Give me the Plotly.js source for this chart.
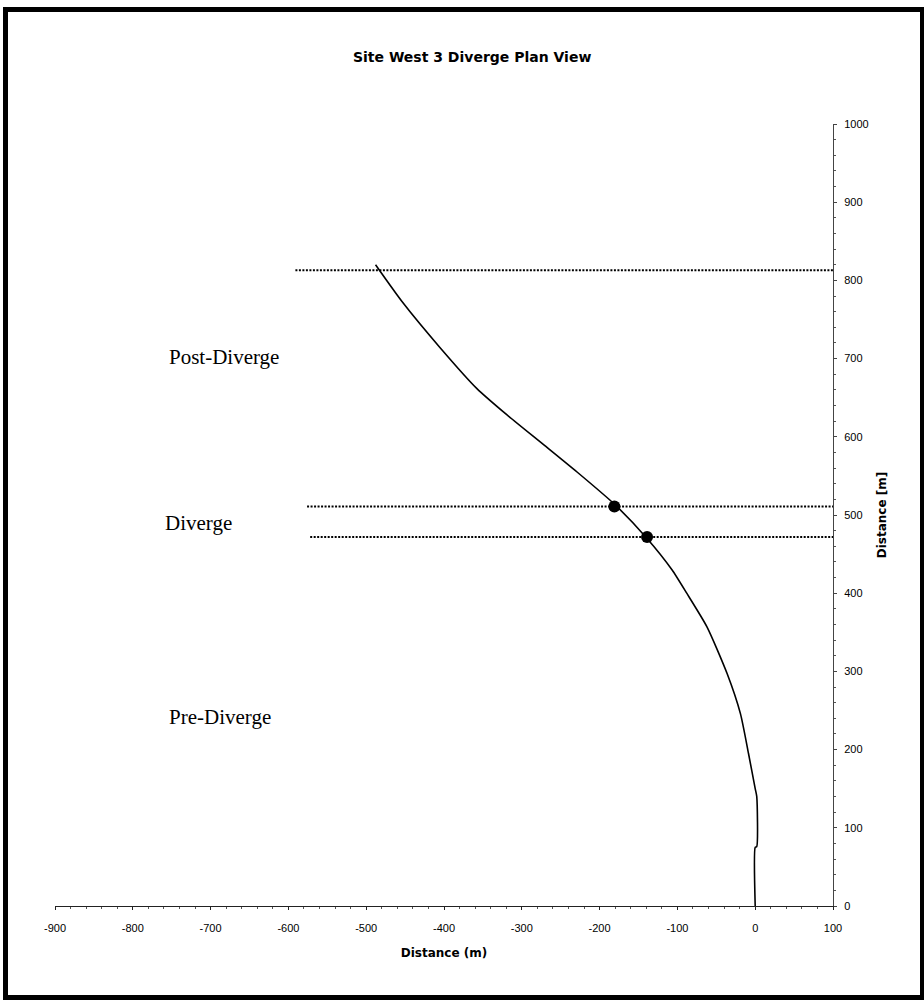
<!DOCTYPE html>
<html>
<head>
<meta charset="utf-8">
<script src="https://cdn.plot.ly/plotly-3.0.1.min.js"></script>
<style>
  html, body { margin: 0; padding: 0; background: #fff; }
  #wrap { position: relative; width: 924px; height: 1001px; }
  #chart { position: absolute; left: 0; top: 0; width: 924px; height: 1001px; }
  #frame { position: absolute; left: 3px; top: 7px; width: 912px; height: 983px;
           border: 5px solid #000; pointer-events: none; }
</style>
</head>
<body>
<div id="wrap">
  <div id="chart"></div>
  <div id="frame"></div>
</div>
<script>
// Road centreline in plan view (metres)
const pathX = [0, 0, 2, 2, 0, -8.6, -19, -36, -62, -88, -107, -139, -180, -229, -272, -319, -358, -405, -454, -488];
const pathY = [0, 75, 76, 140, 150, 195, 246, 297, 357, 400, 430, 470, 513, 555, 590, 628, 662, 714, 773, 820];

// Section boundaries (distance along the y axis) and where each dotted line begins
const boundaryY = [813, 511, 472];
const boundaryStartX = [-591, -576, -572];
const boundaryEndX = 100;

// Diverge start / end points on the centreline
const pointX = [-181, -139];
const pointY = [511, 472];

// Axis ticks (plain hyphen for negatives)
const xTickVals = [-900, -800, -700, -600, -500, -400, -300, -200, -100, 0, 100];
const xTickText = ["-900", "-800", "-700", "-600", "-500", "-400", "-300", "-200", "-100", "0", "100"];

// Section names and where they sit
const sectionNames = ["Post-Diverge", "Diverge", "Pre-Diverge"];
const sectionX = [-756, -761, -756];
const sectionY = [702, 490, 242];

const traces = [];
boundaryY.forEach((y, i) => {
  traces.push({
    x: [boundaryStartX[i], boundaryEndX], y: [y, y],
    mode: 'lines', line: {color: '#000', width: 2, dash: '2px,1.5px'},
    hoverinfo: 'skip', showlegend: false
  });
});
traces.push({
  x: pathX, y: pathY, mode: 'lines',
  line: {color: '#000', width: 1.6, shape: 'spline', smoothing: 0.6}, showlegend: false
});
traces.push({
  x: pointX, y: pointY, mode: 'markers',
  marker: {color: '#000', size: 12}, showlegend: false
});

const layout = {
  width: 924, height: 1001,
  margin: {l: 55, r: 91, t: 124, b: 95},
  paper_bgcolor: '#fff', plot_bgcolor: '#fff',
  showlegend: false,
  title: {
    text: 'Site West 3 Diverge Plan View',
    font: {family: 'DejaVu Sans', size: 14, color: '#000', weight: 'bold'},
    x: 0.511, xanchor: 'center', y: 0.943, yanchor: 'middle'
  },
  xaxis: {
    range: [-900, 100], tickmode: 'array', tickvals: xTickVals, ticktext: xTickText,
    showgrid: false, zeroline: false,
    showline: true, linecolor: '#222', linewidth: 1,
    ticks: 'outside', ticklen: 3, tickcolor: '#222',
    minor: {ticks: 'outside', ticklen: 2, dtick: 20, tickcolor: '#555'},
    ticklabelstandoff: 9,
    tickfont: {family: 'Liberation Sans', size: 11, color: '#000'},
    title: {text: 'Distance (m)', standoff: 15,
            font: {family: 'DejaVu Sans', size: 12, color: '#000', weight: 'bold'}}
  },
  yaxis: {
    range: [0, 1000], side: 'right', dtick: 100,
    showgrid: false, zeroline: false,
    showline: true, linecolor: '#444', linewidth: 1,
    ticks: 'outside', ticklen: 3, tickcolor: '#444',
    minor: {ticks: 'outside', ticklen: 2, dtick: 20, tickcolor: '#555'},
    ticklabelstandoff: 5,
    tickfont: {family: 'Liberation Sans', size: 11, color: '#000'},
    title: {text: 'Distance [m]', standoff: 9,
            font: {family: 'DejaVu Sans', size: 12, color: '#000', weight: 'bold'}}
  },
  annotations: sectionNames.map((t, i) => ({
    x: sectionX[i], y: sectionY[i], xref: 'x', yref: 'y',
    text: t, showarrow: false, xanchor: 'left', yanchor: 'middle',
    font: {family: 'Liberation Serif', size: 21, color: '#000'}
  }))
};

Plotly.newPlot('chart', traces, layout, {displayModeBar: false, staticPlot: true});
</script>
</body>
</html>
